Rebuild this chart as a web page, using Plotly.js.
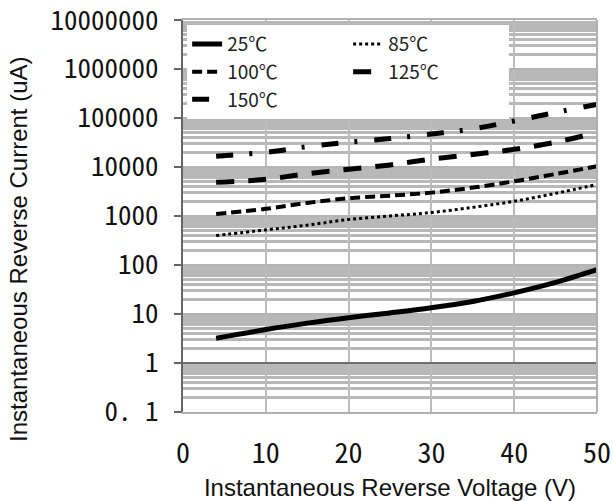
<!DOCTYPE html>
<html>
<head>
<meta charset="utf-8">
<script src="https://cdn.plot.ly/plotly-3.0.1.min.js"></script>
<style>html,body{margin:0;padding:0;background:#fff;}#chart{width:613px;height:501px;}</style>
</head>
<body>
<div id="chart"></div>
<script>
// Reverse voltage (V)
var voltage = [4, 10, 15, 20, 25, 30, 35, 40, 45, 50];
// Reverse current (uA) per junction temperature
var i25  = [3.2, 4.8, 6.5, 8.4, 10.5, 13.4, 18, 27, 44, 80];
var i85  = [400, 520, 650, 850, 1000, 1180, 1500, 2000, 2900, 4400];
var i100 = [1100, 1400, 1850, 2300, 2600, 3000, 3800, 5100, 7200, 10400];
var i125 = [4900, 5600, 7300, 9000, 11000, 14500, 18000, 23000, 32000, 51000];
var i150 = [16600, 20000, 26000, 32000, 38000, 47000, 60000, 87000, 130000, 190000];
var seriesNames = ["25℃", "85℃", "100℃", "125℃", "150℃"];

// Axis ticks
var yTickVals = [0.1, 1, 10, 100, 1000, 10000, 100000, 1000000, 10000000];
var yTickText = ["0. 1", "1", "10", "100", "1000", "10000", "100000", "1000000", "10000000"];
var xTickVals = [0, 10, 20, 30, 40, 50];
var unityLineX = [0, 50];
var unityLineY = [1, 1];
var xTitle = 'Instantaneous Reverse Voltage (V)';
var yTitle = 'Instantaneous Reverse Current (uA)';

var minorVals = [];
for (var d = 0; d < yTickVals.length - 1; d++) {
  for (var k = 2; k <= 9; k++) minorVals.push(k * yTickVals[d]);
}

var traces = [
  {x: unityLineX, y: unityLineY, mode: 'lines', line: {color: '#6e6e6e', width: 2}, showlegend: false, hoverinfo: 'skip'},
  {x: voltage, y: i25, name: seriesNames[0], mode: 'lines', line: {color: '#000', width: 5, shape: 'spline'}},
  {x: voltage, y: i85, name: seriesNames[1], mode: 'lines', line: {color: '#000', width: 3, dash: '3px,3px', shape: 'spline'}},
  {x: voltage, y: i100, name: seriesNames[2], mode: 'lines', line: {color: '#000', width: 4, dash: '10px,5px', shape: 'spline'}},
  {x: voltage, y: i125, name: seriesNames[3], mode: 'lines', line: {color: '#000', width: 5, dash: '18px,14px', shape: 'spline'}},
  {x: voltage, y: i150, name: seriesNames[4], mode: 'lines', line: {color: '#000', width: 5, dash: '17px,16px,3px,17px', shape: 'spline'}}
];

var yTickFont = {family: '"Noto Sans Mono CJK SC", "Liberation Sans", sans-serif', size: 27, color: '#111'};
var xTickFont = {family: '"Noto Sans Mono CJK SC", "Liberation Sans", sans-serif', size: 28, color: '#111'};
var titleFont = {family: '"Liberation Sans", Arial, sans-serif', size: 24, color: '#111'};

var layout = {
  width: 613, height: 501,
  margin: {l: 183, r: 16, t: 20, b: 89},
  paper_bgcolor: '#fff', plot_bgcolor: '#fff',
  showlegend: true,
  legend: {
    orientation: 'h', x: 0.01, y: 0.987, xanchor: 'left', yanchor: 'top',
    bgcolor: '#fff', borderwidth: 0, entrywidth: 116, entrywidthmode: 'pixels',
    font: {family: '"Noto Sans CJK SC", sans-serif', size: 19, color: '#222'},
    traceorder: 'normal'
  },
  xaxis: {
    range: [0, 50], showgrid: true, dtick: 5, gridcolor: '#bcbcbc', gridwidth: 2,
    tickmode: 'array', tickvals: xTickVals, ticks: '', ticklabelstandoff: 15,
    tickfont: xTickFont, zeroline: false,
    showline: true, linecolor: '#b0b0b0', linewidth: 2, mirror: true,
    title: {text: xTitle, font: titleFont, standoff: 13}
  },
  yaxis: {
    type: 'log', range: [-1.001, 7.001],
    tickmode: 'array', tickvals: yTickVals, ticktext: yTickText,
    ticks: 'outside', ticklen: 7, tickwidth: 2, tickcolor: '#666', ticklabelstandoff: 10,
    ticklabeloverflow: 'allow',
    tickfont: yTickFont,
    showgrid: true, gridcolor: '#b4b4b4', gridwidth: 2,
    minor: {tickmode: 'array', tickvals: minorVals, showgrid: true, gridcolor: '#b8b8b8', gridwidth: 3, ticks: ''},
    showline: true, linecolor: '#666', linewidth: 2, zeroline: false
  },
  annotations: [
    {text: yTitle, xref: 'paper', yref: 'paper', x: -0.396, y: 0.416, xanchor: 'center', yanchor: 'middle',
     textangle: -90, showarrow: false, font: titleFont}
  ],
  shapes: [
    {type: 'line', xref: 'paper', yref: 'paper', x0: 1, x1: 1, y0: 0, y1: 1, line: {color: '#b0b0b0', width: 2}}
  ]
};

Plotly.newPlot('chart', traces, layout, {displayModeBar: false, staticPlot: true}).then(function (gd) {
  // make sure the top decade label is present
  var labels = gd.querySelectorAll('.ytick text');
  var found = false;
  labels.forEach(function (t) { if (t.textContent === '10000000') found = true; });
  if (!found) {
    Plotly.relayout(gd, {'yaxis.range': [-1.001, 7.004]});
  }
});
</script>
</body>
</html>
